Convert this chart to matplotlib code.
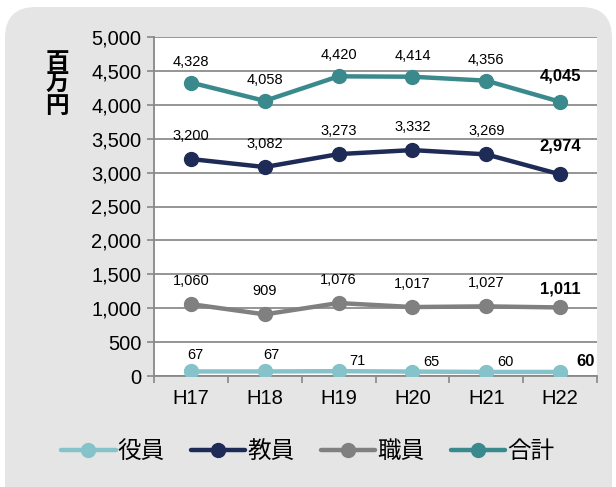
import matplotlib
matplotlib.use("Agg")
import matplotlib.pyplot as plt
from matplotlib.patches import FancyBboxPatch

plt.rcParams['font.family'] = ['Liberation Sans', 'Noto Sans CJK JP']

years = ["H17", "H18", "H19", "H20", "H21", "H22"]
yakuin = [67, 67, 71, 65, 60, 60]
kyoin = [3200, 3082, 3273, 3332, 3269, 2974]
shokuin = [1060, 909, 1076, 1017, 1027, 1011]
gokei = [4328, 4058, 4420, 4414, 4356, 4045]
series_names = ["役員", "教員", "職員", "合計"]
colors = ["#86c2c9", "#1e2b57", "#808080", "#3a8a8d"]

W, H = 616, 487
fig = plt.figure(figsize=(W / 100, H / 100), dpi=100)

# rounded gray panel
panel = FancyBboxPatch((5 / W, -30 / H), 607 / W, (H - 7 + 30) / H,
                       boxstyle="round,pad=0,rounding_size=0.05",
                       transform=fig.transFigure, facecolor="#e5e5e5",
                       edgecolor="none", mutation_aspect=W / H, zorder=-5)
fig.patches.append(panel)

ax = fig.add_axes([154 / W, 1 - 376 / H, 443 / W, 339 / H])
ax.set_facecolor("white")

x = list(range(len(years)))
all_series = [yakuin, kyoin, shokuin, gokei]
for vals, name, c in zip(all_series, series_names, colors):
    ax.plot(x, vals, color=c, lw=3.2, marker="o", ms=10, label=name,
            solid_capstyle="round", zorder=3)

ax.set_xlim(-0.5, 5.5)
ax.set_ylim(0, 5000)
ax.set_yticks(range(0, 5001, 500))
ax.set_yticklabels([f"{v:,}" for v in range(0, 5001, 500)], fontsize=14.5)
ax.set_xticks(x)
ax.set_xticklabels(years, fontsize=14.5)
ax.set_xticks([i - 0.5 for i in range(7)], minor=True)
ax.tick_params(axis="x", which="major", length=0, pad=9)
ax.tick_params(axis="x", which="minor", length=5, color="#888888", width=1.2)
ax.tick_params(axis="y", length=5, color="#888888", width=1.2, pad=4)
ax.grid(axis="y", color="#8c8c8c", lw=1.3, zorder=0)
for s in ["top", "right"]:
    ax.spines[s].set_visible(False)
for s in ["left", "bottom"]:
    ax.spines[s].set_color("#888888")
    ax.spines[s].set_linewidth(1.3)

# data labels (pixel offsets)
offs_tot = [(0, 21), (0, 21), (0, 21), (0, 21), (0, 21)]
offs_kyo = [(0, 23), (0, 23), (0, 23), (0, 23), (0, 23)]
offs_sho = [(0, 23), (0, 23), (0, 23), (0, 23), (0, 23)]
offs_yak = [(4, 16), (7, 16), (19, 10), (19, 10), (19, 10)]
for vals, offs in [(gokei, offs_tot), (kyoin, offs_kyo), (shokuin, offs_sho), (yakuin, offs_yak)]:
    for i in range(5):
        ax.annotate(f"{vals[i]:,}", (i, vals[i]), xytext=offs[i],
                    textcoords="offset pixels", ha="center", va="center",
                    fontsize=10.5, zorder=5)
bold_offs = [(25, 10), (0, 28), (0, 18), (0, 26)]
for vals, o in zip(all_series, bold_offs):
    ax.annotate(f"{vals[5]:,}", (5, vals[5]), xytext=o,
                textcoords="offset pixels", ha="center", va="center",
                fontsize=12, fontweight="bold", zorder=5)

# vertical stacked y label
fig.text(57 / W, 1 - 84 / H, "百\n万\n円", ha="center", va="center",
         fontsize=17, fontweight="bold", linespacing=0.92,
         family=["Noto Sans CJK JP"])

leg = fig.legend(loc="center", bbox_to_anchor=(0.5, 1 - 452 / H), ncol=4,
                 frameon=False, fontsize=17, handlelength=2.3,
                 handletextpad=0.1, columnspacing=1.1)

fig.savefig("out.png", dpi=100)
